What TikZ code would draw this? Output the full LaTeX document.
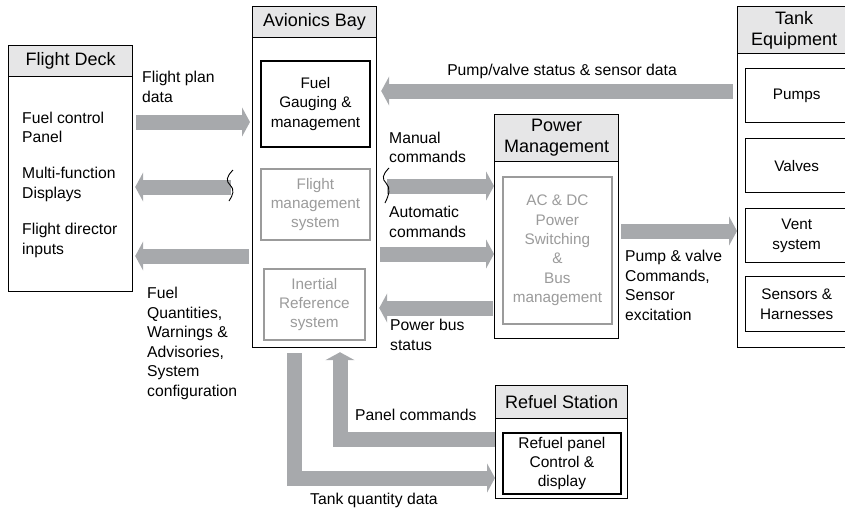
\documentclass[tikz,border=0pt]{standalone}
\usepackage{fontspec}
\setmainfont{Liberation Sans}
\usetikzlibrary{arrows.meta,calc}
\definecolor{hdrgray}{RGB}{230,230,231}
\definecolor{arrgray}{RGB}{167,169,172}
\definecolor{softgray}{RGB}{155,155,155}
\tikzset{
  obox/.style={draw=black, line width=1.2pt, fill=white, anchor=north west, inner sep=0pt},
  hdr/.style={draw=black, line width=1.2pt, fill=hdrgray, anchor=north west, inner sep=0pt,
    align=center, font=\fontsize{18}{21}\selectfont},
  ibox/.style={draw=black, line width=1.8pt, anchor=north west, inner sep=0pt},
  tbox/.style={draw=black, line width=1.4pt, anchor=north west, inner sep=0pt},
  gbox/.style={draw=softgray, line width=1.8pt, anchor=north west, inner sep=0pt},
  itxt/.style={align=center, inner sep=0pt, font=\fontsize{15.3}{19.3}\selectfont},
  gtxt/.style={itxt, text=softgray},
  lbl/.style={align=left, anchor=west, inner sep=0pt, font=\fontsize{15.7}{19.5}\selectfont},
  garrow/.style={draw=arrgray, line width=15pt, -{Triangle[width=29pt,length=8pt]}},
  squig/.style={draw=black, line width=0.9pt}
}
\begin{document}
\begin{tikzpicture}[x=1pt,y=-1pt]
\useasboundingbox (0,0) rectangle (845,512);

% ---------- Flight Deck ----------
\node[obox, minimum width=124pt, minimum height=246pt] (fd) at (8,45) {};
\node[hdr, minimum width=124pt, minimum height=31pt] (fdh) at (fd.north west) {Flight Deck};
\node[lbl] (fd1) at (22,127.5) {Fuel control\\Panel};
\node[lbl] (fd2) at (22,184.5) {Multi-function\\Displays};
\node[lbl] (fd3) at (22,240.5) {Flight director\\inputs};

% ---------- Avionics Bay ----------
\node[obox, minimum width=124pt, minimum height=341pt] (av) at (252,6) {};
\node[hdr, minimum width=124pt, minimum height=31pt] (avh) at (av.north west) {Avionics Bay};
\node[ibox, minimum width=109pt, minimum height=86pt] (fg) at (260,60) {};
\node[itxt] (fgt) at (fg.center) {Fuel\\Gauging \&\\management};
\node[gbox, minimum width=109pt, minimum height=71pt] (fms) at (260,168) {};
\node[gtxt] (fmst) at (fms.center) {Flight\\management\\system};
\node[gbox, minimum width=101pt, minimum height=71pt] (irs) at (263,268) {};
\node[gtxt] (irst) at (irs.center) {Inertial\\Reference\\system};

% ---------- Power Management ----------
\node[obox, minimum width=124pt, minimum height=224pt] (pm) at (494,114) {};
\node[hdr, minimum width=124pt, minimum height=47pt] (pmh) at (pm.north west) {Power\\Management};
\node[gbox, minimum width=109pt, minimum height=147pt] (acdc) at (502,176) {};
\node[gtxt] (acdct) at (acdc.center) {AC \& DC\\Power\\Switching\\\&\\Bus\\management};

% ---------- Tank Equipment ----------
\node[obox, minimum width=113pt, minimum height=341pt] (tk) at (737,6) {};
\node[hdr, minimum width=113pt, minimum height=47pt] (tkh) at (tk.north west) {Tank\\Equipment};
\node[tbox, minimum width=102pt, minimum height=54pt] (pu) at (745,68) {};
\node[itxt] (put) at (pu.center) {Pumps};
\node[tbox, minimum width=102pt, minimum height=54pt] (va) at (745,138) {};
\node[itxt] (vat) at (va.center) {Valves};
\node[tbox, minimum width=102pt, minimum height=54pt] (ve) at (745,208) {};
\node[itxt] (vet) at (ve.center) {Vent\\system};
\node[tbox, minimum width=102pt, minimum height=55pt] (se) at (745,276) {};
\node[itxt] (set) at (se.center) {Sensors \&\\Harnesses};

% ---------- Refuel Station ----------
\node[obox, minimum width=132pt, minimum height=113pt] (rf) at (495,385) {};
\node[hdr, minimum width=132pt, minimum height=33pt] (rfh) at (rf.north west) {Refuel Station};
\node[ibox, minimum width=118pt, minimum height=61pt] (rp) at (502,432) {};
\node[itxt, font=\fontsize{15.5}{19.3}\selectfont] (rpt) at (rp.center) {Refuel panel\\Control \&\\display};

% ---------- helper coordinates ----------
\coordinate (s1) at (231,187);
\coordinate (s2) at (387,186);
\coordinate (b1) at (294,478);
\coordinate (p1) at (340,439);

% ---------- arrows ----------
\draw[garrow, shorten <=3pt, shorten >=2pt] (fd.east |- 0,122) -- (av.west |- 0,122);
\draw[garrow, shorten >=2pt] (s1) -- (fd.east |- s1);
\draw[garrow, shorten <=3pt, shorten >=2pt] (av.west |- 0,256) -- (fd.east |- 0,256);
\draw[garrow, shorten <=4pt, shorten >=4pt] (tk.west |- 0,91) -- (av.east |- 0,91);
\draw[garrow] (s2) -- (pm.west |- s2);
\draw[garrow, shorten <=3pt] (av.east |- 0,254) -- (pm.west |- 0,254);
\draw[garrow, shorten <=1pt, shorten >=2pt] (pm.west |- 0,308) -- (av.east |- 0,308);
\draw[garrow, shorten <=2pt] (pm.east |- 0,231) -- (tk.west |- 0,231);
\draw[garrow, shorten <=5pt] (b1 |- av.south) -- (b1) -- (rf.west |- b1);
\draw[garrow, shorten >=4pt] (rf.west |- p1) -- (p1) -- (p1 |- av.south);

% ---------- break marks ----------
\draw[squig] (233,170) .. controls (226,177) and (226,181) .. (230,185) .. controls (235,190) and (233,195) .. (229,201);
\draw[squig] (389,168) .. controls (382,175) and (382,179) .. (386,183) .. controls (391,188) and (389,195) .. (385,203);

% ---------- labels ----------
\node[lbl] (l1) at (142,87) {Flight plan\\data};
\node[lbl] (l2) at (147,343.5) {Fuel\\Quantities,\\Warnings \&\\Advisories,\\System\\configuration};
\node[lbl, anchor=center] (l3) at (562,71) {Pump/valve status \& sensor data};
\node[lbl] (l4) at (389,147.5) {Manual\\commands};
\node[lbl] (l5) at (389,222) {Automatic\\commands};
\node[lbl] (l6) at (390,335) {Power bus\\status};
\node[lbl] (l7) at (625,285.5) {Pump \& valve\\Commands,\\Sensor\\excitation};
\node[lbl] (l8) at (355,415) {Panel commands};
\node[lbl] (l9) at (310,500) {Tank quantity data};
\end{tikzpicture}
\end{document}
